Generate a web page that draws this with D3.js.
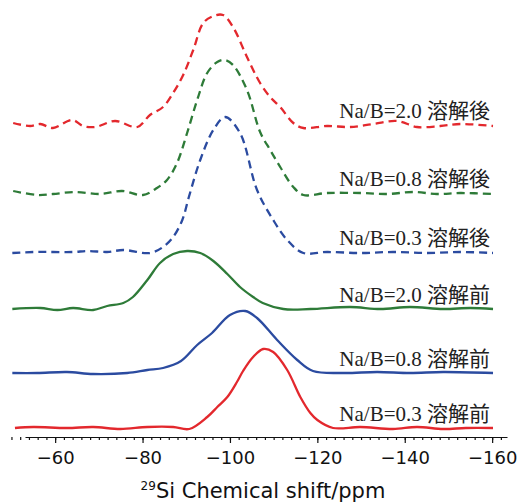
<!DOCTYPE html>
<html>
<head>
<meta charset="utf-8">
<script src="https://cdn.jsdelivr.net/npm/d3@7"></script>
<style>
  body { margin: 0; background: #fff; }
  svg { display: block; }
  .axis text { font-family: 'DejaVu Sans', sans-serif; font-size: 18px; fill: #111; }
  .axis path, .axis line { stroke: #111; stroke-width: 1.2; }
  .label { font-family: 'Liberation Serif', 'Noto Sans CJK JP', serif; font-size: 21px; fill: #222; }
  .title { font-family: 'DejaVu Sans', sans-serif; font-size: 21px; fill: #111; }
</style>
</head>
<body>
<svg id="chart" width="527" height="503"></svg>
<script>
// [ppm, intensity above own baseline]
const before03 = [[-50.8, 0], [-55, 1], [-62.7, 0], [-68.7, 1], [-74.9, -1], [-81.1, 1], [-87, 1], [-90.7, -1],
  [-94.8, 11], [-97.1, 21], [-99.4, 31], [-101.6, 46], [-103, 57], [-105.3, 71], [-107.6, 79], [-109.9, 76],
  [-113.1, 58], [-116.1, 31], [-118.4, 15], [-120, 8], [-123.6, 0], [-129.8, 1], [-137.3, -1], [-142.8, 1],
  [-148.8, -1], [-154, 0], [-160.2, 0]];
const before08 = [[-50.2, 0], [-55.9, 0], [-62.7, 1], [-68.7, -1], [-76.5, 0], [-81.1, 3], [-84.7, 5], [-88.8, 12],
  [-92.5, 28], [-95.9, 40], [-100, 58], [-103.5, 62], [-106.2, 55], [-110.8, 33], [-115.4, 13], [-119, 2],
  [-125.9, 0], [-133.7, 1], [-141.2, 0], [-148.8, 1], [-160.2, 0]];
const before20 = [[-50.2, 0], [-56.6, 1], [-60.5, -1], [-64.1, 1], [-68.7, -1], [-71.9, 3], [-75.6, 6], [-77.8, 12],
  [-81.1, 29], [-84, 46], [-87, 55], [-90.2, 58], [-93.2, 56], [-96.2, 48], [-99.4, 35], [-102.3, 22],
  [-105.3, 12], [-107.5, 6], [-112.2, 0], [-118.4, 0], [-127.5, 2], [-134.4, 0], [-141.2, 2], [-148.8, 0],
  [-155, 1], [-160.2, 0]];
const after03 = [[-50.2, -1], [-55, 0], [-59.5, 0], [-64.1, 0], [-67.6, 1], [-71.9, 0], [-75.6, 2], [-81.7, -1],
  [-84.7, 5], [-87, 15], [-89.1, 32], [-90.6, 55], [-93.2, 92], [-96.2, 122], [-98.9, 135], [-102.3, 119],
  [-106.2, 62], [-109.9, 32], [-113.1, 12], [-116.8, -1], [-122.2, 0], [-129.8, -1], [-137.3, 0], [-145.1, -1],
  [-152.7, 0], [-160.2, -1]];
const after08 = [[-50.4, 2], [-55.9, -2], [-59.5, -1], [-64.6, 1], [-70.3, -1], [-75.3, 2], [-80.1, -2], [-83.3, 5],
  [-85.6, 13], [-87.9, 30], [-90.2, 60], [-92.5, 93], [-94.8, 120], [-97.1, 131], [-98.9, 133], [-100.7, 128],
  [-103.9, 103], [-106.9, 61], [-109.2, 43], [-111.5, 26], [-114.5, 6], [-116.8, -2], [-122.2, 0], [-129.8, 0],
  [-136, -1], [-141.9, 1], [-147.4, -1], [-152.7, 0], [-160.2, -1]];
const after20 = [[-50.4, 2], [-54.3, -1], [-56.6, 1], [-59.5, -3], [-63.9, 5], [-66.4, -1], [-69.2, -2], [-73.7, 4],
  [-78.8, -2], [-81.7, 10], [-84.7, 18], [-87, 32], [-89.3, 50], [-91.6, 75], [-93.9, 102], [-96.2, 109],
  [-98.4, 110], [-100.7, 98], [-103.9, 68], [-106.9, 42], [-109.2, 28], [-111.5, 18], [-114.5, 2], [-116.8, -3],
  [-122.2, -1], [-127.5, -2], [-132.8, 1], [-138.3, 4], [-142.8, -2], [-148.1, -1], [-152.7, 1], [-160.2, -1]];

const seriesData = [before03, before08, before20, after03, after08, after20];
const labels = ['Na/B=0.3 溶解前', 'Na/B=0.8 溶解前', 'Na/B=2.0 溶解前',
  'Na/B=0.3 溶解後', 'Na/B=0.8 溶解後', 'Na/B=2.0 溶解後'];
const offsets = [9, 64, 128, 185, 244, 312];
const colors = ['#e3282d', '#2b4ba0', '#2e7b38', '#2b4ba0', '#2e7b38', '#e3282d'];
const dashed = [false, false, false, true, true, true];
const majorTicks = [-60, -80, -100, -120, -140, -160];
const minorTicks = d3.range(-50, -163, -2);

const svg = d3.select('#chart');

const x = d3.scaleLinear().domain([-53.1, -163.4]).range([25, 507]);
const y = d3.scaleLinear().domain([0, 430]).range([437, 7]);

const line = d3.line()
  .x(d => x(d[0]))
  .y(d => y(d[1]))
  .curve(d3.curveCatmullRom.alpha(0.5));

seriesData.forEach((data, i) => {
  svg.append('path')
    .datum(data.map(d => [d[0], d[1] + offsets[i]]))
    .attr('fill', 'none')
    .attr('stroke', colors[i])
    .attr('stroke-width', 2.3)
    .attr('stroke-dasharray', dashed[i] ? '8,5' : null)
    .attr('d', line);

  svg.append('text')
    .attr('class', 'label')
    .attr('x', 490)
    .attr('y', y(offsets[i]) - 7)
    .attr('text-anchor', 'end')
    .text(labels[i]);
});

// minor ticks, no domain line
svg.append('g')
  .attr('class', 'axis')
  .attr('transform', `translate(0,${y(0)})`)
  .call(d3.axisBottom(x).tickValues(minorTicks).tickSize(3).tickFormat(''))
  .call(g => g.select('.domain').remove());

svg.append('g')
  .attr('class', 'axis')
  .attr('transform', `translate(0,${y(0)})`)
  .call(d3.axisBottom(x).tickValues(majorTicks).tickSize(6).tickSizeOuter(0).tickPadding(8)
    .tickFormat(d3.format('d')));

const title = svg.append('text')
  .attr('class', 'title')
  .attr('x', 263)
  .attr('y', 498)
  .attr('text-anchor', 'middle');
title.append('tspan').attr('font-size', 12).attr('dy', -8).text('29');
title.append('tspan').attr('dy', 8).text('Si Chemical shift/ppm');
</script>
</body>
</html>
